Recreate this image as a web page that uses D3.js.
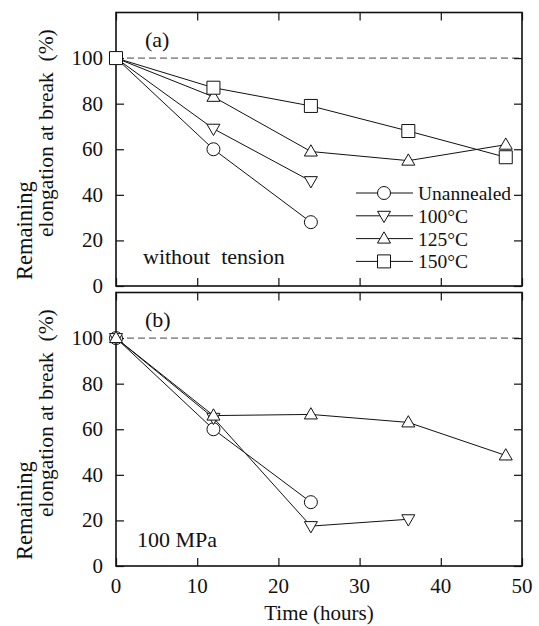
<!DOCTYPE html>
<html>
<head>
<meta charset="utf-8">
<script src="https://cdn.jsdelivr.net/npm/d3@7"></script>
<style>
  body { margin: 0; background: #fff; }
</style>
</head>
<body>
<div class="container"></div>
<script>
const WIDTH = 539
	, HEIGHT = 626
	, LEFT = 116
	, RIGHT = 522
	, PANEL_H = 273.5
	, TOPS = [12.5, 292.5]
	, TICK = 8
	, FONT = "'Liberation Serif', 'Times New Roman', Tinos, 'DejaVu Serif', serif";

// data
const hours = [0, 12, 24, 36, 48];
const seriesNames = ["Unannealed", "100°C", "125°C", "150°C"];
const markers = ["circle", "down", "up", "square"];
const aUnannealed = [100, 60, 28];
const a100 = [100, 69, 46];
const a125 = [100, 83, 59, 55, 62];
const a150 = [100, 87, 79, 68, 56.5];
const bUnannealed = [100, 60, 28];
const b100 = [100, 65, 17.5, 20.5];
const b125 = [100, 66, 66.5, 63, 48.5];
const xTicks = [0, 10, 20, 30, 40, 50];
const yTicks = [0, 20, 40, 60, 80, 100];

var translate = function (x, y) {
	return "translate(" + x + "," + y + ")";
};

var markerPath = function (type) {
	var s = 13, h = s * 0.866;
	if (type == "up") return "M0," + (-h * 0.6) + "L" + (s / 2) + "," + (h * 0.4) + "L" + (-s / 2) + "," + (h * 0.4) + "Z";
	if (type == "down") return "M0," + (h * 0.6) + "L" + (s / 2) + "," + (-h * 0.4) + "L" + (-s / 2) + "," + (-h * 0.4) + "Z";
	return "M-6.5,-6.5h13v13h-13Z";
};

var drawMarker = function (g, type, x, y) {
	if (type == "circle") {
		g.append('circle').attr('cx', x).attr('cy', y).attr('r', 6.5)
			.attr('fill', '#fff').attr('stroke', '#111').attr('stroke-width', 1);
	} else {
		g.append('path').attr('d', markerPath(type))
			.attr('transform', translate(x, y))
			.attr('fill', '#fff').attr('stroke', '#111').attr('stroke-width', 1);
	}
};

var addText = function (g, size) {
	return g.append('text')
		.attr('font-family', FONT)
		.attr('font-size', size)
		.attr('fill', '#111')
		.style('font-family', FONT);
};

var svg = d3.select('.container').append('svg')
	.attr('width', WIDTH)
	.attr('height', HEIGHT)
	.attr('font-family', FONT);

var xScale = d3.scaleLinear().domain([0, 50]).range([LEFT, RIGHT]);

var drawPanel = function (top, series, label, note, showX) {
	var yScale = d3.scaleLinear().domain([0, 120]).range([top + PANEL_H, top]);
	var g = svg.append('g');

	// dashed reference at 100 %
	g.append('line')
		.attr('x1', LEFT).attr('x2', RIGHT)
		.attr('y1', yScale(100)).attr('y2', yScale(100))
		.attr('stroke', '#444').attr('stroke-width', 1)
		.attr('stroke-dasharray', '7,4');

	// axes with inward ticks on all sides
	g.append('g').attr('transform', translate(0, top + PANEL_H))
		.call(d3.axisTop(xScale).tickValues(xTicks).tickSize(TICK).tickFormat(''));
	g.append('g').attr('transform', translate(0, top))
		.call(d3.axisBottom(xScale).tickValues(xTicks).tickSize(TICK).tickFormat(''));
	g.append('g').attr('transform', translate(LEFT, 0))
		.call(d3.axisRight(yScale).tickValues(yTicks).tickSize(TICK).tickFormat(''));
	g.append('g').attr('transform', translate(RIGHT, 0))
		.call(d3.axisLeft(yScale).tickValues(yTicks).tickSize(TICK).tickFormat(''));
	g.selectAll('.domain').remove();
	g.selectAll('.tick line').attr('stroke', '#111').attr('stroke-width', 1.2);

	g.append('rect')
		.attr('x', LEFT).attr('y', top)
		.attr('width', RIGHT - LEFT).attr('height', PANEL_H)
		.attr('fill', 'none').attr('stroke', '#111').attr('stroke-width', 1.6);

	// y tick labels
	yTicks.forEach(function (d) {
		addText(g, 21)
			.attr('x', LEFT - 13)
			.attr('y', yScale(d) + 7)
			.attr('text-anchor', 'end')
			.text(d);
	});

	if (showX) {
		xTicks.forEach(function (d) {
			addText(g, 21)
				.attr('x', xScale(d))
				.attr('y', top + PANEL_H + 27)
				.attr('text-anchor', 'middle')
				.text(d);
		});
	}

	// y axis title
	var off = top - TOPS[0];
	addText(g, 22.5)
		.attr('transform', translate(32, 280 + off) + " rotate(-90)")
		.text('Remaining');
	addText(g, 21.5)
		.attr('transform', translate(53, 237 + off) + " rotate(-90)")
		.style('white-space', 'pre')
		.text('elongation at break  (%)');

	addText(g, 22).attr('x', 145).attr('y', top + 34).text(label);
	addText(g, 22).attr('x', note.x).attr('y', top + note.dy)
		.style('white-space', 'pre').text(note.text);

	var line = d3.line()
		.x(function (d, i) { return xScale(hours[i]); })
		.y(function (d) { return yScale(d); });

	series.forEach(function (s) {
		g.append('path').attr('d', line(s.values))
			.attr('fill', 'none').attr('stroke', '#111').attr('stroke-width', 1);
	});
	series.forEach(function (s) {
		s.values.forEach(function (v, i) {
			drawMarker(g, s.marker, xScale(hours[i]), yScale(v));
		});
	});
	return g;
};

drawPanel(TOPS[0], [
	{ values: aUnannealed, marker: markers[0] },
	{ values: a100, marker: markers[1] },
	{ values: a125, marker: markers[2] },
	{ values: a150, marker: markers[3] }
], '(a)', { x: 143, dy: 251, text: 'without  tension' }, false);

drawPanel(TOPS[1], [
	{ values: bUnannealed, marker: markers[0] },
	{ values: b100, marker: markers[1] },
	{ values: b125, marker: markers[2] }
], '(b)', { x: 137, dy: 254, text: '100 MPa' }, true);

// legend
var legend = svg.append('g');
seriesNames.forEach(function (name, i) {
	var y = 193 + i * 22.8;
	legend.append('line').attr('x1', 356).attr('x2', 413)
		.attr('y1', y).attr('y2', y)
		.attr('stroke', '#111').attr('stroke-width', 1);
	drawMarker(legend, markers[i], 384, y);
	addText(legend, 19.5).attr('x', 418).attr('y', y + 7).text(name);
});

addText(svg, 21)
	.attr('x', xScale(25)).attr('y', 620)
	.attr('text-anchor', 'middle')
	.text('Time (hours)');
</script>
</body>
</html>
